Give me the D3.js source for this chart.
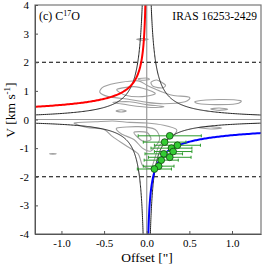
<!DOCTYPE html>
<html>
<head>
<meta charset="utf-8">
<title>C17O PV</title>
<script src="https://d3js.org/d3.v7.min.js"></script>
<style>
  body { margin: 0; background: #fff; }
  text { font-family: "Liberation Serif", "DejaVu Serif", serif; fill: #000; }
</style>
</head>
<body>
<script>
// data
var xTicks = [-1.0, -0.5, 0.0, 0.5, 1.0]
var yTicks = [-4, -3, -2, -1, 0, 1, 2, 3, 4]
var dashedV = [2, -2]

// green points: offset, velocity, offset error
var ptX = [0.27, 0.21, 0.36, 0.29, 0.31, 0.20, 0.27, 0.17, 0.14, 0.09]
var ptV = [-0.57, -0.79, -0.90, -1.00, -1.12, -1.20, -1.32, -1.42, -1.63, -1.73]
var ptErr = [0.37, 0.25, 0.27, 0.24, 0.22, 0.22, 0.25, 0.2, 0.18, 0.2]

// model curve parameters
var kepRed = 0.51, kepBlue = 0.55
var hypUp = 0.21, hypDown = 0.17

// gray contours, [offset, v]
var contours = [
  [[-0.5,1.15],[-0.3,1.3],[-0.1,1.35],[0.0,1.2],[0.15,1.0],[0.3,0.85],[0.5,0.78],[0.45,0.62],[0.2,0.55],[0.0,0.6],[-0.2,0.7],[-0.45,0.8],[-0.55,0.95]],
  [[-0.35,1.05],[-0.15,1.15],[0.0,1.05],[0.1,0.9],[-0.05,0.8],[-0.25,0.85]],
  [[-0.4,0.6],[-0.2,0.62],[0.0,0.52],[0.2,0.45],[0.05,0.42],[-0.2,0.5]],
  [[0.05,1.3],[0.12,1.38],[0.22,1.2],[0.18,1.1],[0.08,1.15]],
  [[-0.36,0.3],[-0.3,0.34],[-0.24,0.3],[-0.3,0.26]],
  [[0.58,0.64],[0.85,0.7],[1.1,0.66],[1.05,0.55],[0.8,0.52],[0.6,0.56]],
  [[0.75,0.37],[0.85,0.4],[0.95,0.36],[0.85,0.32]],
  [[-0.12,2.8],[-0.05,2.83],[0.02,2.8],[-0.05,2.77]],
  [[-0.1,1.42],[0.0,1.45],[0.03,1.4],[-0.05,1.37]],
  [[-0.85,-0.12],[-0.6,-0.08],[-0.4,-0.05],[-0.2,-0.1],[0.0,-0.12],[0.2,-0.2],[0.35,-0.35],[0.3,-0.6],[0.15,-0.9],[0.1,-1.3],[0.05,-1.7],[-0.05,-1.6],[-0.1,-1.2],[-0.25,-0.9],[-0.4,-0.6],[-0.5,-0.35],[-0.7,-0.28]],
  [[-0.35,-0.3],[-0.1,-0.25],[0.1,-0.35],[0.15,-0.7],[0.05,-1.1],[-0.05,-1.0],[-0.15,-0.7],[-0.3,-0.5]],
  [[-0.15,-0.45],[0.0,-0.45],[0.05,-0.7],[-0.05,-0.75]],
  [[0.6,-0.28],[0.75,-0.25],[0.88,-0.3],[0.75,-0.33]],
  [[-1.14,-1.2],[-1.1,-1.19],[-1.06,-1.2],[-1.1,-1.21]]
]

var W = 266, H = 266
var mLeft = 35, mRight = 261, mTop = 5, mBottom = 234

var svg = d3.select("body").append("svg")
    .attr("width", W).attr("height", H)

var x = d3.scaleLinear().domain([-1.31, 1.34]).range([mLeft, mRight])
var y = d3.scaleLinear().domain([-4, 4]).range([mBottom, mTop])

var clip = svg.append("clipPath").attr("id", "clip")
clip.append("rect").attr("x", mLeft).attr("y", mTop)
    .attr("width", mRight - mLeft).attr("height", mBottom - mTop)
var plot = svg.append("g").attr("clip-path", "url(#clip)")

// contours
var cline = d3.line().x(function(d){ return x(d[0]) }).y(function(d){ return y(d[1]) })
    .curve(d3.curveCardinalClosed.tension(0.2))
plot.selectAll(".cont").data(contours).enter().append("path")
    .attr("d", cline).attr("fill", "none")
    .attr("stroke", "#a0a0a0").attr("stroke-width", 1.1)

// zero lines
plot.append("line").attr("x1", mLeft).attr("x2", mRight)
    .attr("y1", y(0)).attr("y2", y(0)).attr("stroke", "#999").attr("stroke-width", 1.2)
plot.append("line").attr("x1", x(0)).attr("x2", x(0))
    .attr("y1", mTop).attr("y2", mBottom).attr("stroke", "#999").attr("stroke-width", 1.2)

// dashed lines
plot.selectAll(".dash").data(dashedV).enter().append("line")
    .attr("x1", mLeft).attr("x2", mRight)
    .attr("y1", function(d){ return y(d) }).attr("y2", function(d){ return y(d) })
    .attr("stroke", "#000").attr("stroke-width", 1).attr("stroke-dasharray", "4,3")

// curves, sampled on a log grid so the steep part near zero is smooth
function logRange(a, b, sign) {
  var out = []
  for (var i = 0; i <= 300; i++) {
    var l = Math.log(a) + (Math.log(b) - Math.log(a)) * i / 300
    out.push(sign * Math.exp(l))
  }
  return out
}
var line = d3.line().x(function(d){ return x(d[0]) }).y(function(d){ return y(d[1]) })

var negX = logRange(0.004, 1.4, -1)
var posX = logRange(0.004, 1.4, 1)

function drawCurve(xs, f, color, w) {
  var p = xs.map(function(v){ return [v, Math.max(-6, Math.min(6, f(v)))] })
  plot.append("path").attr("d", line(p)).attr("fill", "none")
      .attr("stroke", color).attr("stroke-width", w)
}
drawCurve(negX, function(v){ return hypUp / Math.abs(v) }, "#222", 1)
drawCurve(posX, function(v){ return hypUp / Math.abs(v) }, "#222", 1)
drawCurve(negX, function(v){ return -hypDown / Math.abs(v) }, "#222", 1)
drawCurve(posX, function(v){ return -hypDown / Math.abs(v) }, "#222", 1)
drawCurve(negX, function(v){ return kepRed / Math.sqrt(Math.abs(v)) }, "#ff0000", 2)
drawCurve(posX, function(v){ return -kepBlue / Math.sqrt(Math.abs(v)) }, "#0000ff", 2)

// error bars and points
var pts = ptX.map(function(d, i){ return {x: d, v: ptV[i], e: ptErr[i]} })
var eb = plot.selectAll(".eb").data(pts).enter().append("g")
eb.append("line")
    .attr("x1", function(d){ return x(d.x - d.e) }).attr("x2", function(d){ return x(d.x + d.e) })
    .attr("y1", function(d){ return y(d.v) }).attr("y2", function(d){ return y(d.v) })
    .attr("stroke", "#2a9a2a").attr("stroke-width", 1)
eb.append("line")
    .attr("x1", function(d){ return x(d.x - d.e) }).attr("x2", function(d){ return x(d.x - d.e) })
    .attr("y1", function(d){ return y(d.v) - 1.5 }).attr("y2", function(d){ return y(d.v) + 1.5 })
    .attr("stroke", "#2a9a2a").attr("stroke-width", 1)
eb.append("line")
    .attr("x1", function(d){ return x(d.x + d.e) }).attr("x2", function(d){ return x(d.x + d.e) })
    .attr("y1", function(d){ return y(d.v) - 1.5 }).attr("y2", function(d){ return y(d.v) + 1.5 })
    .attr("stroke", "#2a9a2a").attr("stroke-width", 1)
plot.selectAll(".pt").data(pts).enter().append("circle")
    .attr("cx", function(d){ return x(d.x) }).attr("cy", function(d){ return y(d.v) })
    .attr("r", 3.4).attr("fill", "#33cc33").attr("stroke", "#114411").attr("stroke-width", 0.8)

// frame
svg.append("rect").attr("x", mLeft).attr("y", mTop)
    .attr("width", mRight - mLeft).attr("height", mBottom - mTop)
    .attr("fill", "none").attr("stroke", "#777").attr("stroke-width", 1.2)

// axes, ticks inward
var xAxis = d3.axisBottom(x).tickValues(xTicks).tickFormat(d3.format(".1f"))
    .tickSizeInner(-3).tickSizeOuter(0).tickPadding(5)
var gx = svg.append("g").attr("transform", "translate(0," + mBottom + ")").call(xAxis)
var yAxis = d3.axisLeft(y).tickValues(yTicks).tickFormat(d3.format("d"))
    .tickSizeInner(-3).tickSizeOuter(0).tickPadding(6)
var gy = svg.append("g").attr("transform", "translate(" + mLeft + ",0)").call(yAxis)
;[gx, gy].forEach(function(g){
  g.select(".domain").attr("stroke", "#555")
  g.selectAll(".tick line").attr("stroke", "#555")
  g.selectAll("text").attr("font-size", 11)
      .attr("font-family", "Liberation Serif, serif")
})
// plain hyphen minus like the original
gx.selectAll(".tick text").text(function(d){ return d3.format(".1f")(d).replace("\u2212", "-") })
gy.selectAll(".tick text").text(function(d){ return String(d) })

// labels
svg.append("text").attr("x", 147).attr("y", 262)
    .attr("text-anchor", "middle").attr("font-size", 13.5).text("Offset [\"]")
var yl = svg.append("text").attr("transform", "translate(15,110) rotate(-90)")
    .attr("text-anchor", "middle").attr("font-size", 13.5)
yl.append("tspan").text("V [km s")
yl.append("tspan").attr("dy", -5).attr("font-size", 9).text("-1")
yl.append("tspan").attr("dy", 5).text("]")

var t1 = svg.append("text").attr("x", 39).attr("y", 20).attr("font-size", 12)
t1.append("tspan").text("(c) C")
t1.append("tspan").attr("dy", -4).attr("font-size", 8).text("17")
t1.append("tspan").attr("dy", 4).text("O")

svg.append("text").attr("x", 257).attr("y", 20).attr("text-anchor", "end")
    .attr("font-size", 11.5).text("IRAS 16253-2429")
</script>
</body>
</html>
